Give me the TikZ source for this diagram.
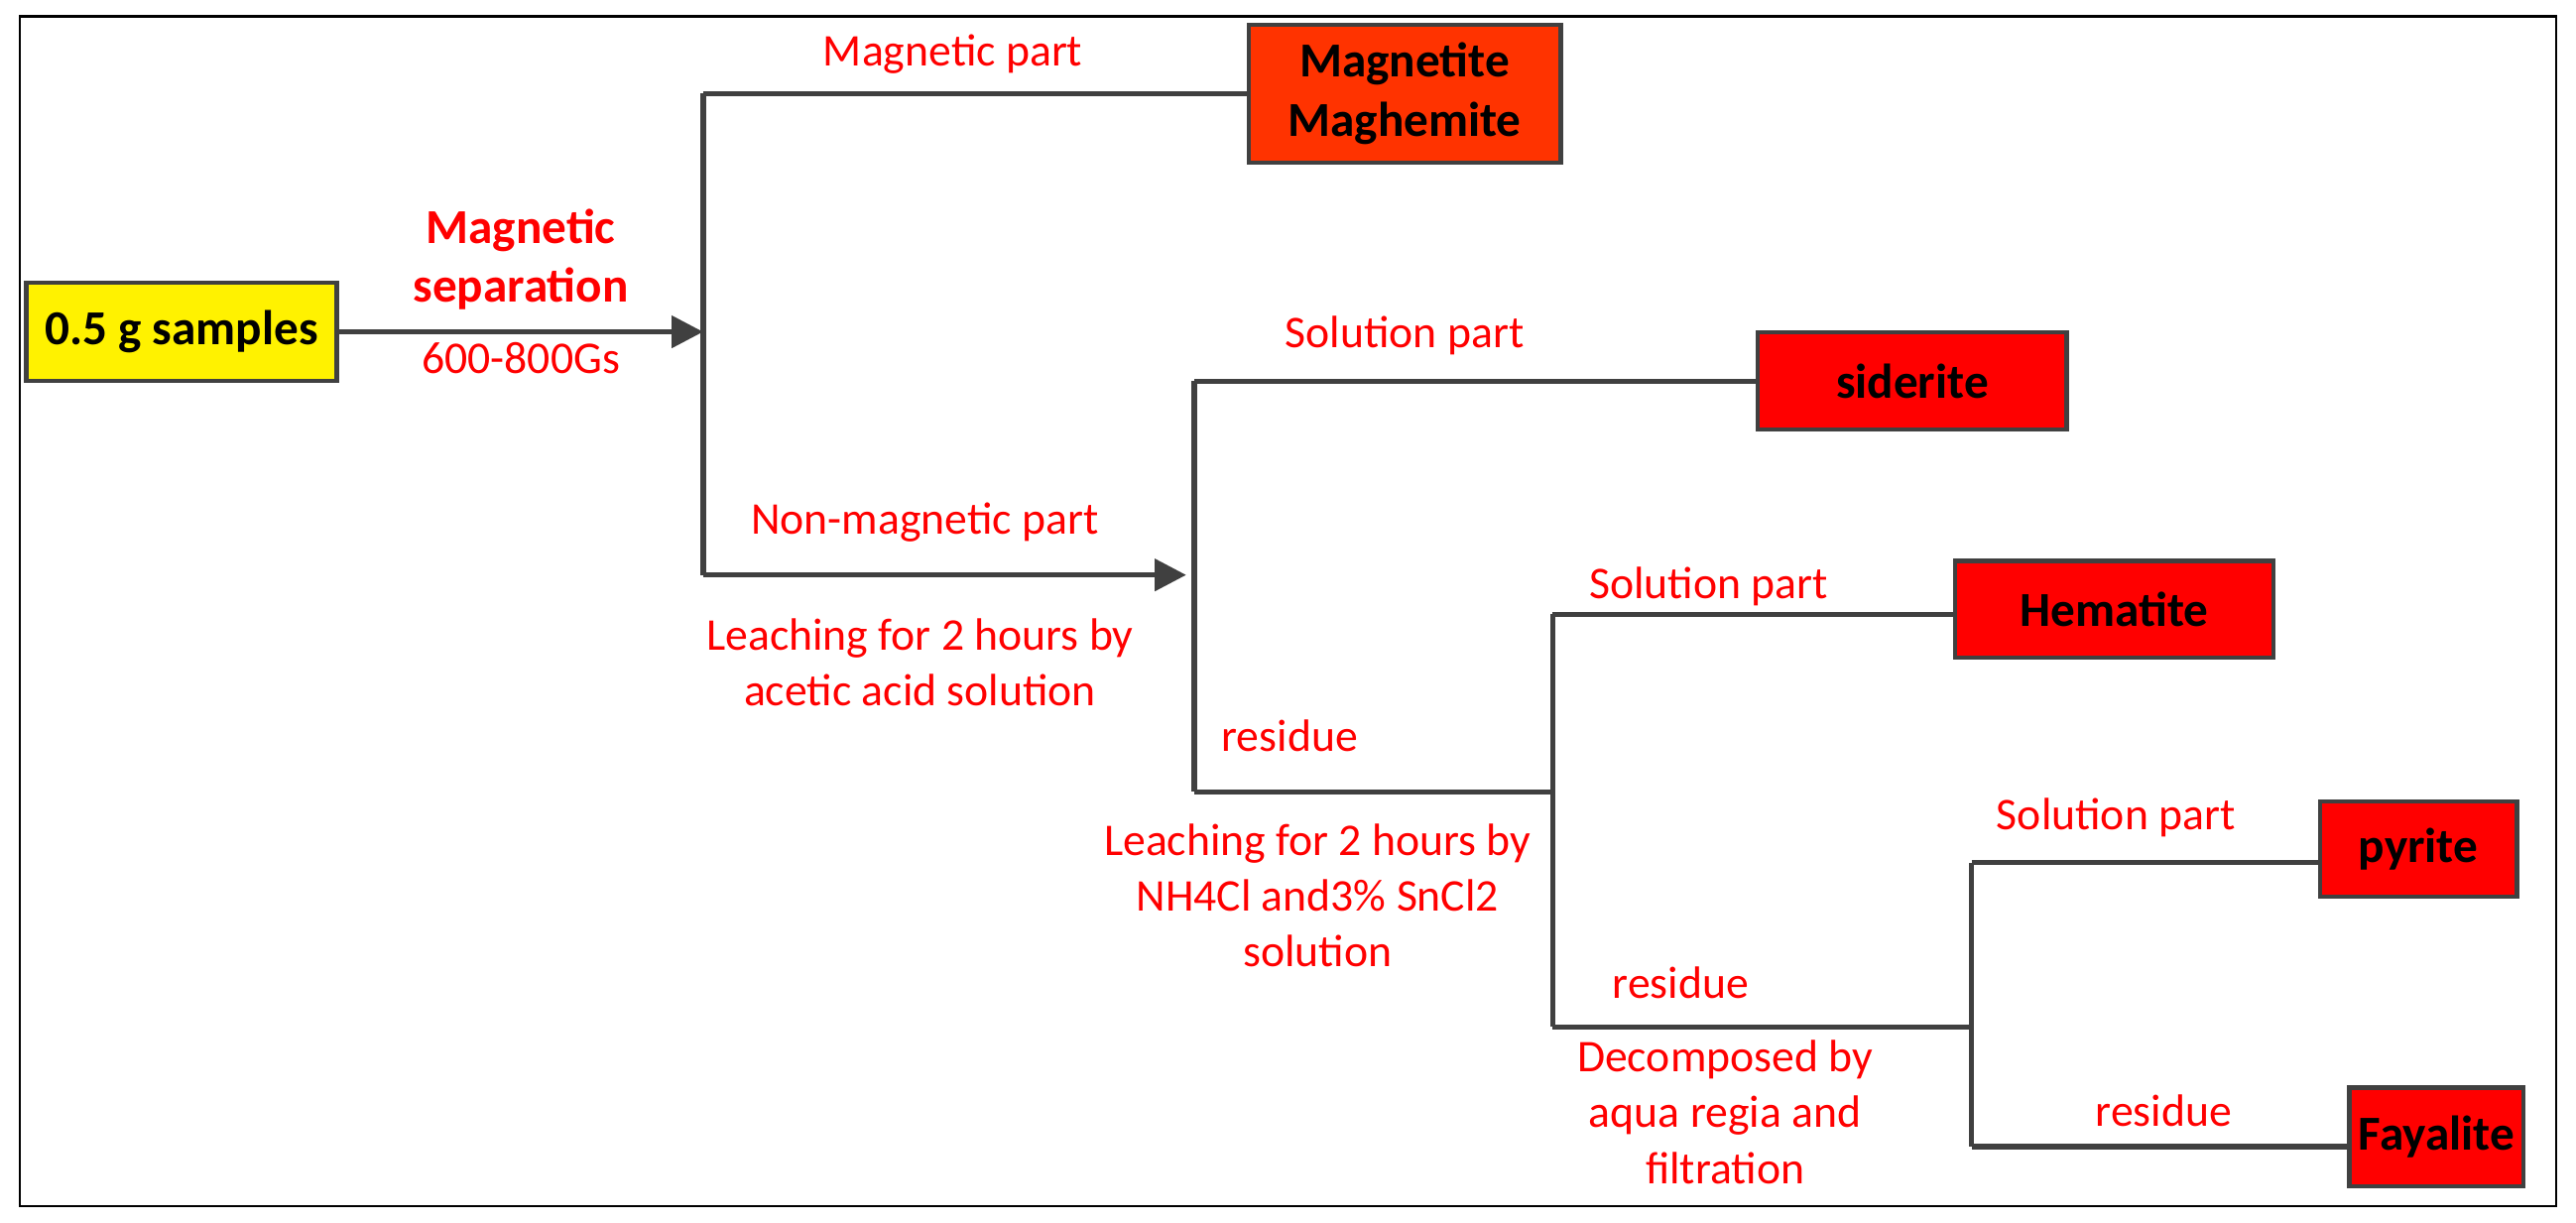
\documentclass[tikz,border=0pt]{standalone}
\usepackage{fontspec}
\setmainfont{Carlito}
\usetikzlibrary{positioning,arrows.meta}
\definecolor{lred}{RGB}{255,0,0}
\definecolor{lorange}{RGB}{255,51,0}
\definecolor{lgray}{RGB}{64,64,64}
\newcommand{\pxu}{0.01656cm}
\begin{document}
\begin{tikzpicture}[x=0.01656cm,y=-0.01656cm,
  box/.style={draw=lgray,line width=1.2pt,fill=lred,font=\fontsize{14}{17}\selectfont\bfseries,inner sep=0pt},
  lbl/.style={text=lred,align=center,font=\fontsize{13}{16}\selectfont},
  line/.style={draw=lgray,line width=1.5pt},
  arr/.style={line,-{Triangle[length=9pt,width=9pt]}}]
  \useasboundingbox (0,0) rectangle (1568,744);
  \draw[line width=0.6pt] (12,10) rectangle (1556,734);
  % boxes
  \node[box,fill=yellow,minimum width=189*\pxu,minimum height=60*\pxu] (samp) at (110.5,202) {0.5 g samples};
  \node[box,fill=lorange,minimum width=190*\pxu,minimum height=84*\pxu,align=center] (magn) at (855,57) {Magnetite\\Maghemite};
  \node[box,minimum width=188*\pxu,minimum height=59*\pxu] (sid) at (1164,232) {siderite};
  \node[box,minimum width=194*\pxu,minimum height=59*\pxu] (hem) at (1287,371) {Hematite};
  \node[box,minimum width=120*\pxu,minimum height=58*\pxu] (pyr) at (1472,517) {pyrite};
  \node[box,minimum width=106*\pxu,minimum height=60*\pxu] (fay) at (1483,692) {Fayalite};
  % junctions
  \coordinate (j1) at (428,202);
  \coordinate (j1t) at (428,57);
  \coordinate (j1b) at (428,350);
  \coordinate (j2t) at (727,232);
  \coordinate (j2b) at (727,482);
  \coordinate (j3) at (945,482);
  \coordinate (j3t) at (945,374);
  \coordinate (j3b) at (945,625);
  \coordinate (j4) at (1200,625);
  \coordinate (j4t) at (1200,525);
  \coordinate (j4b) at (1200,698);
  \coordinate (j2a) at (722,350);
  \draw[arr] (samp) -- (j1);
  \draw[line] (j1t) -- (j1b);
  \draw[line] (j1t) -- (magn.west |- j1t);
  \draw[arr] (j1b) -- (j2a);
  \draw[line] (j2t) -- (j2b);
  \draw[line] (j2t) -- (sid.west);
  \draw[line] (j2b) -- (j3);
  \draw[line] (j3t) -- (j3b);
  \draw[line] (j3t) -- (hem.west |- j3t);
  \draw[line] (j3b) -- (j4);
  \draw[line] (j4t) -- (j4b);
  \draw[line] (j4t) -- (pyr.west |- j4t);
  \draw[line] (j4b) -- (fay.west |- j4b);
  % labels
  \node[lbl,font=\fontsize{14}{17}\selectfont\bfseries] (sep) at (317,158) {Magnetic\\separation};
  \node[lbl] (gs) at (317,218) {600-800Gs};
  \node[lbl] (mpart) at (580,33) {Magnetic part};
  \node[lbl] (nmpart) at (563,318) {Non-magnetic part};
  \node[lbl] (leach1) at (560,403) {Leaching for 2 hours by\\acetic acid solution};
  \node[lbl] (sol1) at (855,204) {Solution part};
  \node[lbl] (res1) at (785,448) {residue};
  \node[lbl] (leach2) at (802,545) {Leaching for 2 hours by\\NH4Cl and3\% SnCl2\\solution};
  \node[lbl] (sol2) at (1040,357) {Solution part};
  \node[lbl] (res2) at (1023,598) {residue};
  \node[lbl] (dec) at (1050,677) {Decomposed by\\aqua regia and\\filtration};
  \node[lbl] (sol3) at (1288,498) {Solution part};
  \node[lbl] (res3) at (1317,676) {residue};
\end{tikzpicture}
\end{document}
